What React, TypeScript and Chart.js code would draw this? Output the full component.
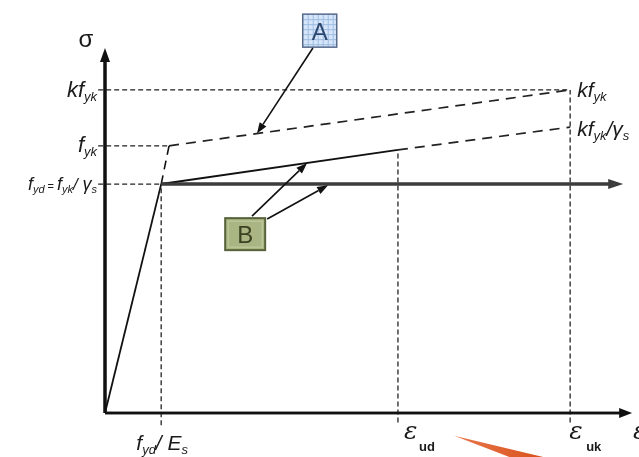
import { useEffect, useRef } from "react";
import { Chart, registerables } from "chart.js";

Chart.register(...registerables);

// Strain marks (schematic units along the ε axis)
const epsYd = 10.7; // f_yd / E_s
const epsKnee = 12.2; // characteristic yield strain f_yk / E_s
const epsUd = 55.8; // ε_ud
const epsUk = 88.6; // ε_uk
const epsAxisEnd = 100.4;
const epsBranchEnd = 98.7;

// Stress levels (schematic units along the σ axis)
const fyd = 62.2; // f_yd = f_yk / γ_s
const fyk = 72.6; // f_yk
const kfyk = 87.8; // k f_yk
const sigmaUd = 71.5; // design inclined branch at ε_ud
const kfykGs = 77.7; // k f_yk / γ_s at ε_uk
const sigmaAxisEnd = 99.2;

// Curves
const elasticSolid = [{ x: 0, y: 0 }, { x: epsYd, y: fyd }];
const elasticDashed = [{ x: epsYd, y: fyd }, { x: epsKnee, y: fyk }];
const charHardening = [{ x: epsKnee, y: fyk }, { x: epsUk, y: kfyk }];
const designInclined = [{ x: epsYd, y: fyd }, { x: epsUd, y: sigmaUd }];
const designInclinedExt = [{ x: epsUd, y: sigmaUd }, { x: epsUk, y: kfykGs }];
const designHorizontal = [{ x: epsYd, y: fyd }, { x: epsBranchEnd - 2.2, y: fyd }];

// Axes
const xAxisLine = [{ x: 0, y: 0 }, { x: epsAxisEnd - 2, y: 0 }];
const yAxisLine = [{ x: 0, y: 0 }, { x: 0, y: sigmaAxisEnd - 3.5 }];

// Reference (leader) lines
const refKfyk = [{ x: -1.3, y: kfyk }, { x: epsUk, y: kfyk }];
const refFyk = [{ x: -1.3, y: fyk }, { x: epsKnee, y: fyk }];
const refFyd = [{ x: -1.3, y: fyd }, { x: epsYd, y: fyd }];
const refEpsYd = [{ x: epsYd, y: -3.3 }, { x: epsYd, y: fyd }];
const refEpsUd = [{ x: epsUd, y: -2.6 }, { x: epsUd, y: sigmaUd }];
const refEpsUk = [{ x: epsUk, y: -2.6 }, { x: epsUk, y: kfyk }];

type Part = { t: string; s: number; dy?: number; it?: boolean; w?: string; fam?: string };

const SANS = '"Liberation Sans", Arial, sans-serif';

function setFont(ctx: CanvasRenderingContext2D, p: Part) {
  ctx.font = `${p.it === false ? "normal" : "italic"} ${p.w || "normal"} ${p.s}px ${p.fam || SANS}`;
}

function drawRich(
  ctx: CanvasRenderingContext2D,
  parts: Part[],
  x: number,
  y: number,
  align: "left" | "right" | "center"
) {
  let total = 0;
  for (const p of parts) {
    setFont(ctx, p);
    total += ctx.measureText(p.t).width;
  }
  let cx = align === "left" ? x : align === "right" ? x - total : x - total / 2;
  ctx.textAlign = "left";
  ctx.textBaseline = "alphabetic";
  for (const p of parts) {
    setFont(ctx, p);
    ctx.fillText(p.t, cx, y + (p.dy || 0));
    cx += ctx.measureText(p.t).width;
  }
}

function arrow(
  ctx: CanvasRenderingContext2D,
  x1: number,
  y1: number,
  x2: number,
  y2: number,
  len: number,
  half: number,
  width: number,
  color: string
) {
  const a = Math.atan2(y2 - y1, x2 - x1);
  const bx = x2 - len * Math.cos(a);
  const by = y2 - len * Math.sin(a);
  ctx.save();
  ctx.strokeStyle = color;
  ctx.fillStyle = color;
  ctx.lineWidth = width;
  ctx.beginPath();
  ctx.moveTo(x1, y1);
  ctx.lineTo(bx, by);
  ctx.stroke();
  ctx.beginPath();
  ctx.moveTo(x2, y2);
  ctx.lineTo(bx + half * Math.sin(a), by - half * Math.cos(a));
  ctx.lineTo(bx - half * Math.sin(a), by + half * Math.cos(a));
  ctx.closePath();
  ctx.fill();
  ctx.restore();
}

const labelsPlugin = {
  id: "diagramLabels",
  afterDraw(chart: any) {
    const ctx: CanvasRenderingContext2D = chart.ctx;
    const xs = chart.scales.x;
    const ys = chart.scales.y;
    const X = (v: number) => xs.getPixelForValue(v);
    const Y = (v: number) => ys.getPixelForValue(v);
    const x0 = X(0);
    const y0 = Y(0);

    ctx.save();
    // axis arrowheads
    arrow(ctx, x0, y0, X(epsAxisEnd), y0, 13, 5, 2.5, "#111");
    arrow(ctx, x0, y0, x0, Y(sigmaAxisEnd), 14, 5, 3, "#111");
    arrow(ctx, X(epsYd), Y(fyd), X(epsBranchEnd), Y(fyd), 15, 5, 3, "#3c3c3c");

    ctx.fillStyle = "#1a1a1a";
    // σ axis title
    drawRich(ctx, [{ t: "σ", s: 24, it: false }], x0 - 19, Y(sigmaAxisEnd) - 1, "center");

    // stress levels on the left
    drawRich(
      ctx,
      [
        { t: "k", s: 22 },
        { t: "f", s: 22 },
        { t: "yk", s: 13, dy: 4 },
      ],
      x0 - 8,
      Y(kfyk) + 7,
      "right"
    );
    drawRich(
      ctx,
      [
        { t: "f", s: 22 },
        { t: "yk", s: 13, dy: 4 },
      ],
      x0 - 8,
      Y(fyk) + 6,
      "right"
    );
    drawRich(
      ctx,
      [
        { t: "f", s: 18 },
        { t: "yd", s: 11, dy: 3 },
        { t: " = ", s: 11, it: false },
        { t: "f", s: 18 },
        { t: "yk", s: 11, dy: 3 },
        { t: "/ ", s: 17 },
        { t: "γ", s: 18 },
        { t: "s", s: 11, dy: 3 },
      ],
      x0 - 8,
      Y(fyd) + 6,
      "right"
    );

    // stress levels on the right
    drawRich(
      ctx,
      [
        { t: "k", s: 21 },
        { t: "f", s: 21 },
        { t: "yk", s: 13, dy: 4 },
      ],
      X(epsUk) + 7,
      Y(kfyk) + 7,
      "left"
    );
    drawRich(
      ctx,
      [
        { t: "k", s: 21 },
        { t: "f", s: 21 },
        { t: "yk", s: 13, dy: 4 },
        { t: "/", s: 21 },
        { t: "γ", s: 21 },
        { t: "s", s: 13, dy: 4 },
      ],
      X(epsUk) + 7,
      Y(kfykGs) + 9,
      "left"
    );

    // strain marks
    drawRich(
      ctx,
      [
        { t: "f", s: 21 },
        { t: "yd", s: 13, dy: 4 },
        { t: "/ ", s: 21 },
        { t: "E", s: 21 },
        { t: "s", s: 13, dy: 4 },
      ],
      X(epsYd) + 1,
      y0 + 37,
      "center"
    );
    drawRich(ctx, [{ t: "ε", s: 25, fam: '"DejaVu Serif", serif' }], X(epsUd) + 6, y0 + 26, "left");
    drawRich(ctx, [{ t: "ud", s: 13, it: false, w: "bold" }], X(epsUd) + 21, y0 + 38, "left");
    drawRich(ctx, [{ t: "ε", s: 25, fam: '"DejaVu Serif", serif' }], X(epsUk) - 1, y0 + 26, "left");
    drawRich(ctx, [{ t: "uk", s: 13, it: false, w: "bold" }], X(epsUk) + 16, y0 + 38, "left");
    drawRich(ctx, [{ t: "ε", s: 25, fam: '"DejaVu Serif", serif' }], X(epsAxisEnd) + 1, y0 + 26, "left");

    // callout A (characteristic curve)
    const ax = X(40.9);
    const ay = Y(103.9);
    const aw = 34;
    const ah = 33;
    ctx.fillStyle = "#d6e5f8";
    ctx.fillRect(ax - aw / 2, ay - ah / 2, aw, ah);
    ctx.strokeStyle = "#9fbde3";
    ctx.lineWidth = 1;
    for (let g = 5; g < aw; g += 5) {
      ctx.beginPath();
      ctx.moveTo(ax - aw / 2 + g + 0.5, ay - ah / 2);
      ctx.lineTo(ax - aw / 2 + g + 0.5, ay + ah / 2);
      ctx.stroke();
    }
    for (let g = 5; g < ah; g += 5) {
      ctx.beginPath();
      ctx.moveTo(ax - aw / 2, ay - ah / 2 + g + 0.5);
      ctx.lineTo(ax + aw / 2, ay - ah / 2 + g + 0.5);
      ctx.stroke();
    }
    ctx.strokeStyle = "#55698a";
    ctx.lineWidth = 1.5;
    ctx.strokeRect(ax - aw / 2, ay - ah / 2, aw, ah);
    ctx.fillStyle = "#2d4870";
    drawRich(ctx, [{ t: "A", s: 24, it: false }], ax, ay + 9, "center");
    const aTipX = 28.95;
    const aTipY = fyk + ((kfyk - fyk) * (aTipX - epsKnee)) / (epsUk - epsKnee);
    arrow(ctx, X(39.6), Y(99.2), X(aTipX), Y(aTipY), 11, 4, 1.6, "#111");

    // callout B (design curves)
    const bx = X(26.7);
    const by = Y(48.6);
    const bw = 40;
    const bh = 32;
    ctx.fillStyle = "#a9b582";
    ctx.fillRect(bx - bw / 2, by - bh / 2, bw, bh);
    ctx.strokeStyle = "#c4cea3";
    ctx.lineWidth = 1;
    ctx.strokeRect(bx - bw / 2 + 3, by - bh / 2 + 3, bw - 6, bh - 6);
    ctx.strokeStyle = "#56623a";
    ctx.lineWidth = 2;
    ctx.strokeRect(bx - bw / 2, by - bh / 2, bw, bh);
    ctx.fillStyle = "#3a4222";
    drawRich(ctx, [{ t: "B", s: 24, it: false }], bx, by + 9, "center");
    const bTipX = 38.5;
    const bTipY = fyd + ((sigmaUd - fyd) * (bTipX - epsYd)) / (epsUd - epsYd);
    arrow(ctx, X(28), Y(53.5), X(bTipX), Y(bTipY), 11, 4, 1.6, "#111");
    arrow(ctx, X(30.9), Y(52.7), X(42.5), Y(fyd - 0.3), 11, 4, 1.6, "#111");

    // orange pointer at the bottom edge
    const grad = ctx.createLinearGradient(X(66.5), 0, X(83.4), 0);
    grad.addColorStop(0, "#e8774a");
    grad.addColorStop(1, "#d9521c");
    ctx.fillStyle = grad;
    ctx.beginPath();
    ctx.moveTo(X(66.5), Y(-6.2));
    ctx.lineTo(X(83.6), Y(-12));
    ctx.lineTo(X(77.1), Y(-12));
    ctx.closePath();
    ctx.fill();
    ctx.restore();
  },
};

function line(data: { x: number; y: number }[], color: string, width: number, dash: number[] = []) {
  return {
    data,
    borderColor: color,
    borderWidth: width,
    borderDash: dash,
    showLine: true,
    pointRadius: 0,
    fill: false,
    tension: 0,
  };
}

export default function App() {
  const ref = useRef<HTMLCanvasElement | null>(null);

  useEffect(() => {
    if (!ref.current) return;
    const chart = new Chart(ref.current, {
      type: "scatter",
      data: {
        datasets: [
          line(refKfyk, "#222", 1.3, [5, 3]),
          line(refFyk, "#222", 1.3, [5, 3]),
          line(refFyd, "#222", 1.3, [5, 3]),
          line(refEpsYd, "#222", 1.3, [5, 3]),
          line(refEpsUd, "#222", 1.3, [5, 3]),
          line(refEpsUk, "#222", 1.3, [5, 3]),
          line(elasticSolid, "#111", 1.8),
          line(elasticDashed, "#111", 1.6, [9, 6]),
          line(charHardening, "#222", 1.7, [10, 7]),
          line(designInclined, "#111", 2),
          line(designInclinedExt, "#222", 1.7, [10, 7]),
          line(designHorizontal, "#3c3c3c", 3),
          line(xAxisLine, "#111", 2.5),
          line(yAxisLine, "#111", 3),
        ] as any,
      },
      options: {
        animation: false,
        responsive: false,
        events: [],
        layout: { padding: { left: 94.5, right: 3.75, top: 37.64, bottom: 29.28 } },
        plugins: { legend: { display: false }, tooltip: { enabled: false } },
        scales: {
          x: { type: "linear", min: -2, max: 101, display: false },
          y: { type: "linear", min: -4, max: 102, display: false },
        },
      },
      plugins: [labelsPlugin],
    });
    return () => chart.destroy();
  }, []);

  return (
    <div style={{ position: "fixed", left: 0, top: 0, width: 639, height: 457, background: "#fff" }}>
      <canvas ref={ref} width={639} height={457} style={{ display: "block" }} />
    </div>
  );
}
